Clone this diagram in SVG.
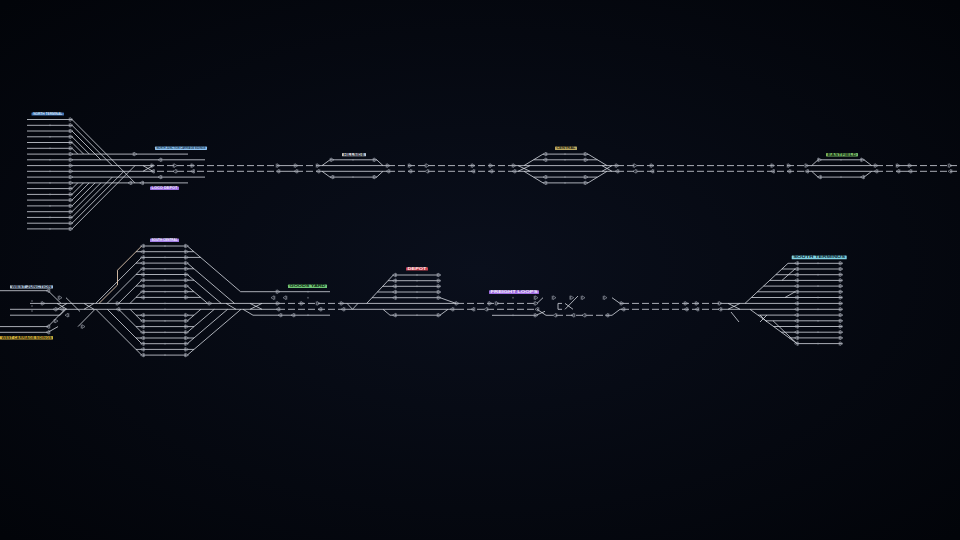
<svg xmlns="http://www.w3.org/2000/svg" width="960" height="540" viewBox="0 0 960 540">
<defs>
<radialGradient id="bg" cx="50%" cy="50%" r="70%">
<stop offset="0" stop-color="#0a0f1c"/>
<stop offset="1" stop-color="#020409"/>
</radialGradient>
<g id="sR"><path class="s" d="M-1.8,-1.9V1.9M-1,-1.9L2,0L-1,1.9Z"/></g>
<g id="sL"><path class="s" d="M1.8,-1.9V1.9M1,-1.9L-2,0L1,1.9Z"/></g>
<rect id="mk" x="-0.4" y="-0.8" width="0.8" height="1.6" fill="#9aa0aa"/>
</defs>
<style>
.t{fill:none;stroke:#d6dae2;stroke-width:.9;stroke-opacity:.88}
.d{fill:none;stroke:#d6dae2;stroke-width:.9;stroke-opacity:.88;stroke-dasharray:7 3}
.s{fill:none;stroke:#b0b6c0;stroke-width:.55}
.lb{font-family:"Liberation Sans",Arial,sans-serif;font-size:2.8px;font-weight:bold}
</style>
<rect width="960" height="540" fill="url(#bg)"/>

<g id="connectors">
<path class="d" d="M147 165.6H278M296 165.6H318M388 165.6H514M617 165.6H806M876 165.6H898M910 165.6H960M147 171.3H278M296 171.3H318M388 171.3H514M617 171.3H806M876 171.3H898M910 171.3H960"/>
<path class="t" d="M278 165.6H296M318 165.6H388M514 165.6H617M806 165.6H876M898 165.6H910M278 171.3H296M318 171.3H388M514 171.3H617M806 171.3H876M898 171.3H910"/>
<path class="t" d="M30 303.4H278M342 303.4H457M10 309.3H278M342 309.3H457M720 303.4H745M720 309.3H750"/>
<path class="d" d="M278 303.4H342M457 303.4H537M622 303.4H720M278 309.3H342M457 309.3H537M622 309.3H720M546 315.3H612"/>
<path class="t" d="M537 303.4L543 297.7M537 309.3L546 315.3M612 297.7L620 303.4H622M612 315.3L620 309.3H622"/>
<g>
<use href="#sR" x="152.7" y="165.6"/><use href="#sR" x="175" y="165.6"/><use href="#sR" x="192.7" y="165.6"/><use href="#sR" x="278" y="165.6"/><use href="#sR" x="296" y="165.6"/><use href="#sR" x="318" y="165.6"/><use href="#sR" x="388" y="165.6"/><use href="#sR" x="410" y="165.6"/><use href="#sR" x="427" y="165.6"/><use href="#sR" x="473" y="165.6"/><use href="#sR" x="491" y="165.6"/><use href="#sR" x="514" y="165.6"/><use href="#sR" x="617" y="165.6"/><use href="#sR" x="635" y="165.6"/><use href="#sR" x="652" y="165.6"/><use href="#sR" x="772.7" y="165.6"/><use href="#sR" x="789" y="165.6"/><use href="#sR" x="806.7" y="165.6"/><use href="#sR" x="876" y="165.6"/><use href="#sR" x="898" y="165.6"/><use href="#sR" x="910" y="165.6"/><use href="#sR" x="950" y="165.6"/>
<use href="#sL" x="152.7" y="171.3"/><use href="#sL" x="175" y="171.3"/><use href="#sL" x="192.7" y="171.3"/><use href="#sL" x="278" y="171.3"/><use href="#sL" x="296" y="171.3"/><use href="#sL" x="318" y="171.3"/><use href="#sL" x="388" y="171.3"/><use href="#sL" x="410" y="171.3"/><use href="#sL" x="427" y="171.3"/><use href="#sL" x="473" y="171.3"/><use href="#sL" x="491" y="171.3"/><use href="#sL" x="514" y="171.3"/><use href="#sL" x="617" y="171.3"/><use href="#sL" x="635" y="171.3"/><use href="#sL" x="652" y="171.3"/><use href="#sL" x="772.7" y="171.3"/><use href="#sL" x="789" y="171.3"/><use href="#sL" x="806.7" y="171.3"/><use href="#sL" x="876" y="171.3"/><use href="#sL" x="898" y="171.3"/><use href="#sL" x="910" y="171.3"/><use href="#sL" x="950" y="171.3"/>
<use href="#sR" x="118" y="303.4"/><use href="#sR" x="210" y="303.4"/><use href="#sR" x="278" y="303.4"/><use href="#sR" x="302" y="303.4"/><use href="#sR" x="318" y="303.4"/><use href="#sR" x="342" y="303.4"/><use href="#sR" x="457" y="303.4"/><use href="#sR" x="490" y="303.4"/><use href="#sR" x="497" y="303.4"/><use href="#sR" x="536" y="303.4"/><use href="#sR" x="622" y="303.4"/><use href="#sR" x="686" y="303.4"/><use href="#sR" x="697" y="303.4"/><use href="#sR" x="720" y="303.4"/>
<use href="#sL" x="118" y="309.3"/><use href="#sL" x="278" y="309.3"/><use href="#sL" x="320" y="309.3"/><use href="#sL" x="343" y="309.3"/><use href="#sL" x="452" y="309.3"/><use href="#sL" x="473" y="309.3"/><use href="#sL" x="486" y="309.3"/><use href="#sL" x="537" y="309.3"/><use href="#sL" x="623" y="309.3"/><use href="#sL" x="686" y="309.3"/><use href="#sL" x="697" y="309.3"/><use href="#sL" x="720" y="309.3"/>
</g>
</g>

<g id="terminus-north">
<path class="t" d="M27 119.5H72M27 125.3H72M27 131H72M27 136.8H72M27 142.5H72M27 148.3H72M27 188.6H72M27 194.4H72M27 200.1H72M27 205.9H72M27 211.7H72M27 217.4H72M27 223.2H72M27 228.9H72"/>
<path class="t" d="M27 154.1H188M27 159.8H205M27 165.6H147M27 171.3H147M27 177.1H205M27 182.9H188"/>
<path class="t" d="M72 119.5L135 182.9M72 125.3L112.3 165.6M72 131L100.8 159.8M72 136.8L89.3 154.1M72 142.5L83.6 154.1M72 148.3L77.8 154.1M72 228.9L135 165.6M72 223.2L123.9 171.3M72 217.4L112.3 177.1M72 211.7L100.8 182.9M72 205.9L95 182.9M72 200.1L89.2 182.9M72 194.4L83.5 182.9M72 188.6L77.7 182.9M143 165.6L153 171.3M143 171.3L153 165.6"/>
<g>
<use href="#sR" x="71" y="119.5"/><use href="#sR" x="71" y="125.3"/><use href="#sR" x="71" y="131"/><use href="#sR" x="71" y="136.8"/><use href="#sR" x="71" y="142.5"/><use href="#sR" x="71" y="148.3"/><use href="#sR" x="71" y="154.1"/><use href="#sR" x="71" y="159.8"/><use href="#sR" x="71" y="165.6"/><use href="#sR" x="71" y="171.3"/><use href="#sR" x="71" y="177.1"/><use href="#sR" x="71" y="182.9"/><use href="#sR" x="71" y="188.6"/><use href="#sR" x="71" y="194.4"/><use href="#sR" x="71" y="200.1"/><use href="#sR" x="71" y="205.9"/><use href="#sR" x="71" y="211.7"/><use href="#sR" x="71" y="217.4"/><use href="#sR" x="71" y="223.2"/><use href="#sR" x="71" y="228.9"/>
<use href="#sR" x="135" y="154.1"/><use href="#sL" x="160" y="159.8"/><use href="#sL" x="160" y="177.1"/><use href="#sL" x="130" y="182.9"/><use href="#sL" x="141.7" y="182.9"/>
<use href="#mk" x="50" y="125.3"/><use href="#mk" x="50" y="136.8"/><use href="#mk" x="50" y="148.3"/><use href="#mk" x="50" y="159.8"/><use href="#mk" x="50" y="171.3"/><use href="#mk" x="50" y="182.9"/><use href="#mk" x="50" y="194.4"/><use href="#mk" x="50" y="205.9"/><use href="#mk" x="50" y="217.4"/><use href="#mk" x="50" y="228.9"/>
</g>
<rect x="31.5" y="112.4" width="32.5" height="3.2" rx="0.6" fill="#3f73b4"/>
<text class="lb" x="47.7" y="115" text-anchor="middle" fill="#cfe3fa" textLength="29" lengthAdjust="spacingAndGlyphs">NORTH TERMINAL</text>
<rect x="155" y="146.6" width="52" height="3.3" rx="0.6" fill="#8ec1ee"/>
<text class="lb" x="181" y="149.2" text-anchor="middle" fill="#12304d" textLength="49" lengthAdjust="spacingAndGlyphs">NORTH JUNCTION CARRIAGE SIDINGS</text>
<rect x="150" y="186.5" width="29" height="3.4" rx="0.6" fill="#9b6fe0"/>
<text class="lb" x="164.5" y="189.1" text-anchor="middle" fill="#efe4ff" textLength="26" lengthAdjust="spacingAndGlyphs">LOCO DEPOT</text>
</g>

<g id="station-a">
<path class="t" d="M322 165.6L330 159.8H376.7L383 165.6M322 171.3L330 177.1H376.7L383 171.3"/>
<use href="#sR" x="332" y="159.8"/><use href="#sR" x="375" y="159.8"/><use href="#sL" x="332" y="177.1"/><use href="#sR" x="375" y="177.1"/>
<use href="#mk" x="353" y="159.8"/><use href="#mk" x="353" y="177.1"/>
<rect x="342" y="153" width="24" height="3.3" rx="0.6" fill="#c4c8d0"/>
<text class="lb" x="354" y="155.6" text-anchor="middle" fill="#1a1e26" textLength="21" lengthAdjust="spacingAndGlyphs">HILLSIDE</text>
</g>

<g id="station-b">
<path class="t" d="M524 165.6L543 154.1H588L607 165.6M533.6 159.8H597.4M524 171.3L543 182.9H588L607 171.3M533.6 177.1H597.4M518 165.6L530 171.3M518 171.3L530 165.6M602 165.6L612 171.3M602 171.3L612 165.6"/>
<use href="#sL" x="545" y="154.1"/><use href="#sL" x="545" y="159.8"/><use href="#sR" x="586" y="154.1"/><use href="#sR" x="586" y="159.8"/>
<use href="#sL" x="545" y="177.1"/><use href="#sL" x="545" y="182.9"/><use href="#sR" x="586" y="177.1"/><use href="#sR" x="586" y="182.9"/>
<use href="#mk" x="565" y="154.1"/><use href="#mk" x="565" y="159.8"/><use href="#mk" x="565" y="177.1"/><use href="#mk" x="565" y="182.9"/>
<rect x="555" y="146.6" width="22" height="3.4" rx="0.6" fill="#b9a862"/>
<text class="lb" x="566" y="149.2" text-anchor="middle" fill="#2a2510" textLength="19" lengthAdjust="spacingAndGlyphs">CENTRAL</text>
</g>

<g id="station-c">
<path class="t" d="M811.7 165.6L818 159.8H864L871.7 165.6M811.7 171.3L818 177.1H864L871.7 171.3"/>
<use href="#sR" x="819.5" y="159.8"/><use href="#sR" x="862.5" y="159.8"/><use href="#sL" x="819.5" y="177.1"/><use href="#sL" x="862.5" y="177.1"/>
<use href="#mk" x="841" y="159.8"/><use href="#mk" x="841" y="177.1"/>
<rect x="826" y="153" width="32" height="3.4" rx="0.6" fill="#77b865"/>
<text class="lb" x="842" y="155.6" text-anchor="middle" fill="#102a0c" textLength="29" lengthAdjust="spacingAndGlyphs">EASTFIELD</text>
</g>

<g id="junction-west">
<path class="t" d="M0 290.7H48L61 303.4M10 315.2H60L66 309.3M0 326.6H48L65 309.3M0 332.3H48L58 326.6M57 303.4L67 309.3M57 309.3L67 303.4M84 303.4L94 309.3M84 309.3L94 303.4M66 297.7L80 311.5M78 326.6L95 309.3"/>
<use href="#sL" x="48" y="290.7"/><use href="#sR" x="43" y="303.4"/><use href="#sR" x="60" y="297.7"/><use href="#sL" x="55" y="309.3"/><use href="#sL" x="62" y="309.3"/><use href="#sL" x="67" y="315.2"/><use href="#sL" x="48" y="326.6"/><use href="#sL" x="48" y="332.3"/><use href="#sR" x="56" y="321"/><use href="#sR" x="83" y="326.6"/>
<use href="#mk" x="32" y="301"/><use href="#mk" x="32" y="306"/><use href="#mk" x="32" y="311"/>
<rect x="10" y="285.2" width="43" height="3.4" rx="0.6" fill="#a9bed4"/>
<text class="lb" x="31.5" y="287.8" text-anchor="middle" fill="#18222e" textLength="40" lengthAdjust="spacingAndGlyphs">WEST JUNCTION</text>
<rect x="0" y="336" width="53" height="3.5" rx="0.6" fill="#cfae3c"/>
<text class="lb" x="26.5" y="338.6" text-anchor="middle" fill="#2a2206" textLength="50" lengthAdjust="spacingAndGlyphs">WEST CARRIAGE SIDINGS</text>
</g>

<g id="station-d">
<path class="t" d="M141.7 246H187.3M136 251.7H194M141.7 257.4H200.7M136 263.1H187.3M141.7 268.8H194M136 274.5H187.3M141.7 280.2H194M136 286H187.3M141.7 291.7H194M136 297.4H200.7M136 315.2H194M141.7 320.9H187.3M136 326.6H194M141.7 332.3H187.3M136 338H194M141.7 343.7H187.3M136 349.4H194M141.7 355.1H187.3"/>
<path class="t" d="M141.7 257.4L95.7 303.4M141.7 268.8L107.1 303.4M141.7 280.2L118.5 303.4M141.7 291.7L130 303.4M141.7 320.9L130.1 309.3M141.7 332.3L118.7 309.3M141.7 343.7L107.3 309.3M141.7 355.1L95.9 309.3"/>
<path fill="none" stroke="#e2c8b0" stroke-width=".9" d="M141.7 246L117.5 270.2V285L99 303.4"/>
<path class="t" d="M187.3 246L240.6 291.7H330M187.3 263.1L234.5 303.4M187.3 274.5L221.2 303.4M187.3 286L207.7 303.4M187.3 355.1L241 309.3M187.3 343.7L227.6 309.3M187.3 332.3L214.3 309.3M187.3 320.9L200.9 309.3M243 309.3L253 315.2H330M226 303.4L236 309.3M250 303.4L262 309.3M250 309.3L262 303.4"/>
<g>
<use href="#sL" x="142.5" y="246"/><use href="#sL" x="142.5" y="251.7"/><use href="#sL" x="142.5" y="257.4"/><use href="#sL" x="142.5" y="263.1"/><use href="#sL" x="142.5" y="268.8"/><use href="#sL" x="142.5" y="274.5"/><use href="#sL" x="142.5" y="280.2"/><use href="#sL" x="142.5" y="286"/><use href="#sL" x="142.5" y="291.7"/><use href="#sL" x="142.5" y="297.4"/><use href="#sL" x="142.5" y="315.2"/><use href="#sL" x="142.5" y="320.9"/><use href="#sL" x="142.5" y="326.6"/><use href="#sL" x="142.5" y="332.3"/><use href="#sL" x="142.5" y="338"/><use href="#sL" x="142.5" y="343.7"/><use href="#sL" x="142.5" y="349.4"/><use href="#sL" x="142.5" y="355.1"/>
<use href="#sR" x="186.5" y="246"/><use href="#sR" x="186.5" y="251.7"/><use href="#sR" x="186.5" y="257.4"/><use href="#sR" x="186.5" y="263.1"/><use href="#sR" x="186.5" y="268.8"/><use href="#sR" x="186.5" y="274.5"/><use href="#sR" x="186.5" y="280.2"/><use href="#sR" x="186.5" y="286"/><use href="#sR" x="186.5" y="291.7"/><use href="#sR" x="186.5" y="297.4"/><use href="#sR" x="186.5" y="315.2"/><use href="#sR" x="186.5" y="320.9"/><use href="#sR" x="186.5" y="326.6"/><use href="#sR" x="186.5" y="332.3"/><use href="#sR" x="186.5" y="338"/><use href="#sR" x="186.5" y="343.7"/><use href="#sR" x="186.5" y="349.4"/><use href="#sR" x="186.5" y="355.1"/>
<use href="#mk" x="165" y="246"/><use href="#mk" x="165" y="257.4"/><use href="#mk" x="165" y="268.8"/><use href="#mk" x="165" y="280.2"/><use href="#mk" x="165" y="291.7"/><use href="#mk" x="165" y="303.4"/><use href="#mk" x="165" y="309.3"/><use href="#mk" x="165" y="320.9"/><use href="#mk" x="165" y="332.3"/><use href="#mk" x="165" y="343.7"/><use href="#mk" x="165" y="355.1"/>
<use href="#sR" x="278" y="291.7"/><use href="#sL" x="273" y="297.7"/><use href="#sL" x="285" y="297.7"/><use href="#sL" x="280" y="315.2"/><use href="#sL" x="293" y="315.2"/>
<use href="#mk" x="308" y="291.7"/><use href="#mk" x="308" y="297.7"/><use href="#mk" x="308" y="315.2"/>
</g>
<rect x="150" y="238.6" width="29" height="3.4" rx="0.6" fill="#a27fe6"/>
<text class="lb" x="164.5" y="241.2" text-anchor="middle" fill="#f2eaff" textLength="26" lengthAdjust="spacingAndGlyphs">SOUTH CENTRAL</text>
<rect x="288" y="284.6" width="39" height="3.4" rx="0.6" fill="#6fc476"/>
<text class="lb" x="307.5" y="287.2" text-anchor="middle" fill="#0c2a10" textLength="36" lengthAdjust="spacingAndGlyphs">GOODS YARD</text>
</g>

<g id="station-e">
<path class="t" d="M366.7 303.4L393.3 275H440M388 280.7H440M382.7 286.3H440M377.4 292H440M372 297.7H440L456 303.4M383 309.3L390 315.2H440L448 309.3M347 303.4L352.5 309.3L358 303.4"/>
<use href="#sL" x="394.5" y="275"/><use href="#sL" x="394.5" y="280.7"/><use href="#sL" x="394.5" y="286.3"/><use href="#sL" x="394.5" y="292"/><use href="#sL" x="394.5" y="297.7"/><use href="#sL" x="394.5" y="315.2"/>
<use href="#sR" x="439" y="275"/><use href="#sR" x="439" y="280.7"/><use href="#sR" x="439" y="286.3"/><use href="#sR" x="439" y="292"/><use href="#sR" x="439" y="297.7"/><use href="#sR" x="439" y="315.2"/>
<use href="#mk" x="417" y="275"/><use href="#mk" x="417" y="280.7"/><use href="#mk" x="417" y="286.3"/><use href="#mk" x="417" y="292"/><use href="#mk" x="417" y="297.7"/><use href="#mk" x="417" y="315.2"/>
<rect x="406" y="267.2" width="22" height="3.4" rx="0.6" fill="#c8424f"/>
<text class="lb" x="417" y="269.8" text-anchor="middle" fill="#ffe6e8" textLength="19" lengthAdjust="spacingAndGlyphs">DEPOT</text>
</g>

<g id="loops-middle">
<path class="t" d="M492 315.3H536L545 311.3M562 303.4H558V309.3H562M565 309.3L578 296M565 303.4L573 309.3"/>
<use href="#mk" x="513" y="297.7"/><use href="#mk" x="513" y="315.3"/>
<use href="#sR" x="536" y="297.7"/><use href="#sR" x="554" y="297.7"/><use href="#sR" x="571.7" y="297.7"/><use href="#sR" x="583" y="297.7"/><use href="#sR" x="605" y="297.7"/>
<use href="#sR" x="536" y="315.3"/><use href="#sL" x="555" y="315.3"/><use href="#sL" x="573" y="315.3"/><use href="#sL" x="584" y="315.3"/><use href="#sL" x="607" y="315.3"/>
<rect x="489" y="290.3" width="50" height="3.6" rx="0.6" fill="#9f6ee0"/>
<text class="lb" x="514" y="293" text-anchor="middle" fill="#f3eaff" textLength="47" lengthAdjust="spacingAndGlyphs">FREIGHT LOOPS</text>
</g>

<g id="terminus-south">
<path class="t" d="M728 303.4L740 309.3M728 309.3L740 303.4M731 312L739 322"/>
<path class="t" d="M745 303.4L788 263.3H842M781.9 269H842M775.8 274.7H842M769.7 280.4H842M763.5 286.1H842M757.4 291.8H842M751.3 297.5H842M745 303.4H842M750 309.3H842M750 309.3L797 343.6H842M757.9 315.1H842M765.8 320.8H842M773.6 326.5H842M781.4 332.2H842M789.2 337.9H842M773 320.8L797 343.6M760 315L767 322M760 322L767 315M782 280.4L795 269M785 297.5L795 291.8"/>
<g>
<use href="#sL" x="796.5" y="263.3"/><use href="#sL" x="796.5" y="269"/><use href="#sL" x="796.5" y="274.7"/><use href="#sL" x="796.5" y="280.4"/><use href="#sL" x="796.5" y="286.1"/><use href="#sL" x="796.5" y="291.8"/><use href="#sL" x="796.5" y="297.5"/><use href="#sL" x="796.5" y="303.4"/><use href="#sL" x="796.5" y="309.3"/><use href="#sL" x="796.5" y="315.1"/><use href="#sL" x="796.5" y="320.8"/><use href="#sL" x="796.5" y="326.5"/><use href="#sL" x="796.5" y="332.2"/><use href="#sL" x="796.5" y="337.9"/><use href="#sL" x="796.5" y="343.6"/>
<use href="#sR" x="841" y="263.3"/><use href="#sR" x="841" y="269"/><use href="#sR" x="841" y="274.7"/><use href="#sR" x="841" y="280.4"/><use href="#sR" x="841" y="286.1"/><use href="#sR" x="841" y="291.8"/><use href="#sR" x="841" y="297.5"/><use href="#sR" x="841" y="303.4"/><use href="#sR" x="841" y="309.3"/><use href="#sR" x="841" y="315.1"/><use href="#sR" x="841" y="320.8"/><use href="#sR" x="841" y="326.5"/><use href="#sR" x="841" y="332.2"/><use href="#sR" x="841" y="337.9"/><use href="#sR" x="841" y="343.6"/>
<use href="#mk" x="818" y="263.3"/><use href="#mk" x="818" y="274.7"/><use href="#mk" x="818" y="286.1"/><use href="#mk" x="818" y="297.5"/><use href="#mk" x="818" y="309.3"/><use href="#mk" x="818" y="320.8"/><use href="#mk" x="818" y="332.2"/><use href="#mk" x="818" y="343.6"/>
</g>
<rect x="791.7" y="255.5" width="55" height="3.8" rx="0.6" fill="#7fcfe0"/>
<text class="lb" x="819.2" y="258.3" text-anchor="middle" fill="#0c2a30" textLength="52" lengthAdjust="spacingAndGlyphs">SOUTH TERMINUS</text>
</g>
</svg>
